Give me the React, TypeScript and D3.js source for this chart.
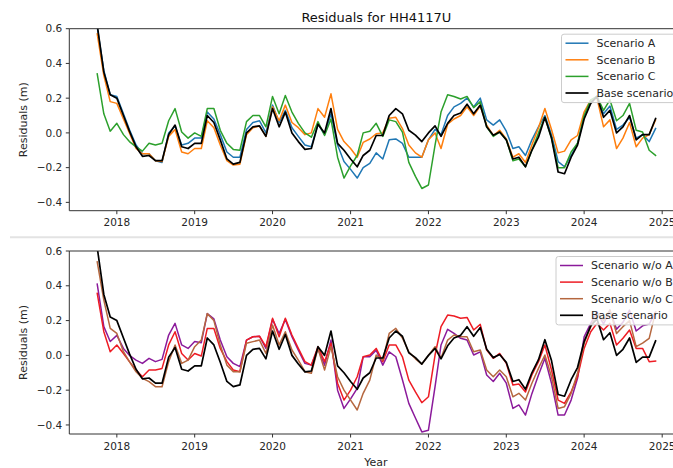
import React from "react";
import * as d3 from "d3";

// Monthly observation dates: Oct 2017 .. Dec 2024
const dates: Date[] = d3.utcMonth.range(new Date(Date.UTC(2017, 9, 1)), new Date(Date.UTC(2025, 0, 1)));

const baseScenario = [0.62,0.35,0.22,0.20,0.10,0.01,-0.08,-0.135,-0.13,-0.16,-0.16,-0.01,0.045,-0.08,-0.09,-0.06,-0.06,0.10,0.06,-0.04,-0.15,-0.18,-0.17,0.00,0.035,0.04,-0.02,0.14,0.035,0.12,0.00,-0.05,-0.095,-0.09,0.05,0.00,0.14,-0.06,-0.10,-0.15,-0.195,-0.13,-0.10,-0.015,-0.015,0.10,0.14,0.11,0.015,-0.013,-0.05,0.00,0.04,-0.02,0.055,0.10,0.115,0.165,0.11,0.16,0.035,-0.013,0.005,-0.04,-0.15,-0.14,-0.195,-0.10,-0.025,0.09,-0.03,-0.225,-0.235,-0.14,-0.07,0.08,0.17,0.21,0.09,0.13,0.00,0.035,0.10,-0.04,-0.01,-0.01,0.083];
const scenarioA = [0.61,0.36,0.22,0.21,0.11,0.02,-0.07,-0.12,-0.12,-0.16,-0.17,0.00,0.04,-0.07,-0.06,-0.03,-0.03,0.12,0.08,-0.01,-0.11,-0.14,-0.14,0.02,0.06,0.07,0.00,0.16,0.06,0.13,0.03,-0.02,-0.07,-0.08,0.05,-0.01,0.11,-0.07,-0.165,-0.21,-0.26,-0.20,-0.175,-0.115,-0.15,-0.04,-0.035,-0.06,-0.14,-0.14,-0.14,-0.04,0.02,-0.01,0.10,0.15,0.17,0.20,0.15,0.20,0.075,0.045,0.075,0.01,-0.09,-0.08,-0.13,-0.04,0.035,0.10,-0.01,-0.165,-0.195,-0.13,-0.06,0.09,0.18,0.21,0.11,0.155,0.02,0.045,0.09,-0.03,-0.01,-0.05,0.025];
const scenarioB = [0.57,0.33,0.18,0.17,0.08,0.00,-0.09,-0.12,-0.12,-0.16,-0.165,-0.02,0.02,-0.11,-0.12,-0.09,-0.09,0.07,0.03,-0.07,-0.16,-0.185,-0.18,-0.01,0.03,0.04,-0.02,0.15,0.07,0.16,0.06,0.03,-0.01,0.00,0.14,0.09,0.225,0.02,-0.05,-0.09,-0.14,-0.055,-0.035,-0.005,0.00,0.085,0.09,0.025,-0.07,-0.115,-0.14,-0.04,0.00,-0.09,0.05,0.08,0.10,0.15,0.10,0.155,0.045,-0.015,0.015,-0.035,-0.14,-0.12,-0.17,-0.07,0.03,0.14,0.02,-0.115,-0.105,-0.04,-0.015,0.12,0.19,0.20,0.035,0.075,-0.09,-0.03,0.06,-0.08,-0.03,-0.01,0.075];
const scenarioC = [0.34,0.11,0.01,0.055,-0.01,-0.05,-0.08,-0.105,-0.06,-0.07,-0.06,0.07,0.14,0.005,-0.03,0.00,-0.02,0.14,0.14,0.015,-0.06,-0.095,-0.10,0.065,0.10,0.10,0.035,0.21,0.11,0.215,0.12,0.055,0.00,-0.025,0.065,-0.015,0.08,-0.14,-0.26,-0.19,-0.13,0.00,0.01,0.055,-0.02,0.075,0.065,0.005,-0.17,-0.25,-0.32,-0.30,-0.07,0.12,0.22,0.21,0.195,0.21,0.145,0.18,0.035,-0.02,0.005,-0.04,-0.16,-0.15,-0.195,-0.10,0.00,0.09,-0.03,-0.20,-0.20,-0.11,-0.06,0.10,0.19,0.21,0.13,0.19,0.07,0.10,0.17,0.015,0.005,-0.10,-0.13];
const scenarioWoA = [0.41,0.165,0.08,0.115,0.04,0.00,-0.027,-0.046,-0.017,-0.036,-0.023,0.117,0.184,0.06,0.04,0.08,0.073,0.24,0.21,0.088,-0.008,-0.046,-0.065,0.088,0.107,0.11,0.04,0.207,0.126,0.207,0.107,0.03,-0.046,-0.056,0.04,-0.056,0.088,-0.20,-0.305,-0.25,-0.19,-0.008,-0.008,0.03,-0.056,0.02,-0.008,-0.14,-0.276,-0.36,-0.44,-0.43,-0.18,0.06,0.15,0.126,0.098,0.088,0.002,0.02,-0.113,-0.15,-0.103,-0.16,-0.305,-0.285,-0.343,-0.22,-0.113,-0.017,-0.16,-0.343,-0.343,-0.257,-0.132,0.107,0.184,0.25,0.18,0.26,0.15,0.19,0.26,0.14,0.17,0.18,0.25];
const scenarioWoB = [0.356,0.136,0.021,0.06,0.011,-0.036,-0.084,-0.123,-0.084,-0.084,-0.075,0.06,0.136,0.011,-0.027,0.011,-0.004,0.155,0.155,0.04,-0.036,-0.084,-0.094,0.088,0.107,0.11,0.05,0.213,0.107,0.213,0.117,0.04,-0.036,-0.056,0.05,-0.036,0.07,-0.16,-0.257,-0.20,-0.123,-0.008,0.002,0.04,-0.036,0.06,0.06,-0.008,-0.142,-0.21,-0.272,-0.238,0.002,0.165,0.232,0.226,0.213,0.218,0.146,0.178,0.031,-0.017,0.011,-0.046,-0.17,-0.165,-0.21,-0.113,-0.036,0.06,-0.084,-0.257,-0.276,-0.21,-0.123,0.04,0.136,0.184,0.146,0.184,0.06,0.098,0.146,0.04,0.04,-0.036,-0.033];
const scenarioWoC = [0.538,0.318,0.155,0.126,0.021,-0.036,-0.094,-0.132,-0.151,-0.18,-0.18,-0.036,0.06,-0.046,-0.027,0.05,0.088,0.24,0.20,0.06,-0.056,-0.094,-0.094,0.07,0.079,0.088,0.011,0.174,0.06,0.136,0.031,-0.027,-0.094,-0.103,0.04,-0.084,0.05,-0.123,-0.20,-0.257,-0.314,-0.218,-0.142,0.002,-0.027,0.126,0.155,0.10,0.02,-0.02,-0.05,0.00,0.05,-0.017,0.088,0.117,0.107,0.107,0.021,0.031,-0.084,-0.123,-0.084,-0.123,-0.238,-0.218,-0.257,-0.16,-0.075,0.002,-0.123,-0.305,-0.295,-0.218,-0.103,0.07,0.165,0.24,0.20,0.26,0.126,0.165,0.20,0.05,0.07,0.098,0.25];

const yearTicks = [2018, 2019, 2020, 2021, 2022, 2023, 2024, 2025];
const yTicks = [-0.4, -0.2, 0.0, 0.2, 0.4, 0.6];

const titleText = "Residuals for HH4117U";
const yLabel = "Residuals (m)";
const xLabel = "Year";

const topSeries = [
  { name: "Scenario A", values: scenarioA, color: "#1f77b4" },
  { name: "Scenario B", values: scenarioB, color: "#ff7f0e" },
  { name: "Scenario C", values: scenarioC, color: "#2ca02c" },
  { name: "Base scenario", values: baseScenario, color: "#000000" },
];
const bottomSeries = [
  { name: "Scenario w/o A", values: scenarioWoA, color: "#8b1a9b" },
  { name: "Scenario w/o B", values: scenarioWoB, color: "#ee1c24" },
  { name: "Scenario w/o C", values: scenarioWoC, color: "#b5673f" },
  { name: "Base scenario", values: baseScenario, color: "#000000" },
];

const FONT = "DejaVu Sans, Liberation Sans, sans-serif";
const X0 = 69.3;
const X1 = 683.5;

const d0 = dates[0].getTime();
const d1 = dates[dates.length - 1].getTime();
const pad = (d1 - d0) * 0.05;
const x = d3.scaleUtc().domain([new Date(d0 - pad), new Date(d1 + pad)]).range([X0, X1]);

function fmt(v: number) {
  const s = v.toFixed(1);
  return v < 0 ? "\u2212" + s.slice(1) : s;
}

type S = { name: string; values: number[]; color: string };

function Panel({ id, top, bottom, domain, series, legendX, showTitle, showXLabel }: {
  id: string; top: number; bottom: number; domain: [number, number]; series: S[];
  legendX: number; showTitle?: boolean; showXLabel?: boolean;
}) {
  const y = d3.scaleLinear().domain(domain).range([bottom, top]);
  const line = d3.line<number>().x((_, i) => x(dates[i])).y((v) => y(v));
  const legendTop = top + 5.5;
  const rowH = 16.6;
  const legendH = rowH * series.length + 2;
  return (
    <g>
      <defs>
        <clipPath id={id}>
          <rect x={X0} y={top} width={X1 - X0} height={bottom - top} />
        </clipPath>
      </defs>
      {showTitle && (
        <text x={(X0 + X1) / 2} y={21.5} textAnchor="middle" fontSize={13} fontFamily={FONT} fill="#111">{titleText}</text>
      )}
      <g clipPath={`url(#${id})`}>
        {series.map((s) => (
          <path key={s.name} d={line(s.values) || ""} fill="none" stroke={s.color}
            strokeWidth={s.color === "#000000" ? 1.7 : 1.5} strokeLinejoin="round" strokeLinecap="square" />
        ))}
      </g>
      {/* spines */}
      <line x1={X0} x2={X0} y1={top} y2={bottom} stroke="#333" strokeWidth={1} />
      <line x1={X0} x2={X1} y1={bottom} y2={bottom} stroke="#333" strokeWidth={1} />
      <line x1={X0} x2={X1} y1={top} y2={top} stroke="#333" strokeWidth={1} />
      <line x1={X1} x2={X1} y1={top} y2={bottom} stroke="#333" strokeWidth={1} />
      {yTicks.map((t) => (
        <g key={t}>
          <line x1={X0 - 3.5} x2={X0} y1={y(t)} y2={y(t)} stroke="#333" strokeWidth={1} />
          <text x={X0 - 7} y={y(t)} dy="0.35em" textAnchor="end" fontSize={10.5} fontFamily={FONT} fill="#262626">{fmt(t)}</text>
        </g>
      ))}
      {yearTicks.map((yr) => {
        const px = x(new Date(Date.UTC(yr, 0, 1)));
        return (
          <g key={yr}>
            <line x1={px} x2={px} y1={bottom} y2={bottom + 3.5} stroke="#333" strokeWidth={1} />
            <text x={px} y={bottom + 15.5} textAnchor="middle" fontSize={10.5} fontFamily={FONT} fill="#262626">{yr}</text>
          </g>
        );
      })}
      <text transform={`translate(27,${(top + bottom) / 2}) rotate(-90)`} textAnchor="middle" fontSize={11} fontFamily={FONT} fill="#262626">{yLabel}</text>
      {showXLabel && (
        <text x={376} y={466} textAnchor="middle" fontSize={11} fontFamily={FONT} fill="#262626">{xLabel}</text>
      )}
      {/* legend */}
      <g>
        <rect x={legendX} y={legendTop} width={678 - legendX} height={legendH} rx={2.5}
          fill="#ffffff" fillOpacity={0.8} stroke="#cccccc" strokeWidth={1} />
        {series.map((s, i) => {
          const cy = legendTop + 9 + i * rowH;
          return (
            <g key={s.name}>
              <line x1={legendX + 4} x2={legendX + 27} y1={cy} y2={cy} stroke={s.color} strokeWidth={s.color === "#000000" ? 1.7 : 1.5} />
              <text x={legendX + 35} y={cy} dy="0.35em" fontSize={11} fontFamily={FONT} fill="#262626">{s.name}</text>
            </g>
          );
        })}
      </g>
    </g>
  );
}

export default function App() {
  return (
    <svg width={673} height={468} viewBox="0 0 673 468"
      style={{ position: "absolute", left: 0, top: 0, background: "#ffffff" }}>
      <rect x={0} y={0} width={673} height={468} fill="#ffffff" />
      <Panel id="clipTop" top={28.7} bottom={210.7} domain={[-0.448, 0.6]} series={topSeries} legendX={561.5} showTitle />
      <line x1={10} x2={673} y1={237.3} y2={237.3} stroke="#e3e3e3" strokeWidth={2} />
      <Panel id="clipBottom" top={251} bottom={434} domain={[-0.452, 0.6]} series={bottomSeries} legendX={556} showXLabel />
    </svg>
  );
}
